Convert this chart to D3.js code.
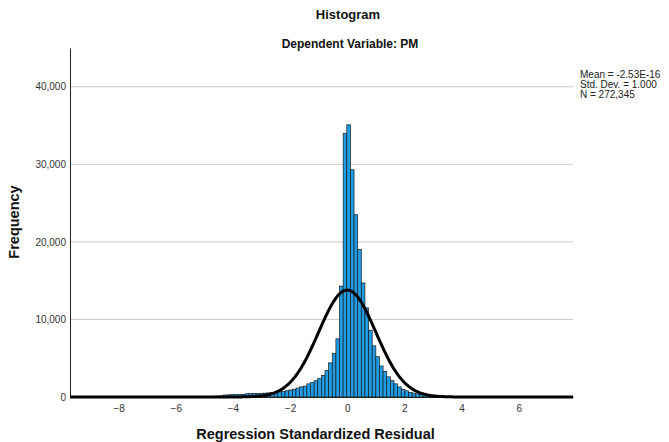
<!DOCTYPE html>
<html>
<head>
<meta charset="utf-8">
<script src="https://cdn.jsdelivr.net/npm/d3@7"></script>
<style>
  body { margin: 0; background: #fff; }
  svg { display: block; font-family: "Liberation Sans", Arial, sans-serif; }
</style>
</head>
<body>
<svg></svg>
<script>
var width = 669;
var height = 442;

// histogram bins (width binWidth, first lower edge at binStart)
var binStart = -4.968;
var binWidth = 0.127;
var counts = [
  50, 80, 100, 120, 150,
  250, 280, 300, 300, 330, 350,
  420, 450, 450, 470, 480, 500,
  530, 580, 620, 660,
  700, 800, 900, 1000, 1150, 1300, 1400, 1700, 1850, 2100, 2400, 2800, 3400, 4400, 5600, 7500, 14300, 34000,
  35100, 29300, 23500, 19000, 14700, 11500, 8600, 6600, 5200, 4000, 3300, 2600, 2100, 1700, 1300, 1000, 800, 600,
  500, 400, 320, 250, 200, 150, 120, 90, 70, 50, 40, 30, 20, 15, 10, 80
];

var yTicks = [0, 10000, 20000, 30000, 40000];
var xTicks = [-8, -6, -4, -2, 0, 2, 4, 6];
var stats = ["Mean = -2.53E-16", "Std. Dev. = 1.000", "N = 272,345"];
var meanVal = 0;
var sdVal = 1;
var nVal = 272345;

var margin = {top: 48, right: 96, bottom: 45, left: 70};
var plotW = width - margin.left - margin.right;
var plotH = height - margin.top - margin.bottom;

var bins = counts.map((c, i) => ({x0: binStart + i * binWidth, x1: binStart + (i + 1) * binWidth, count: c}));

var x = d3.scaleLinear().domain([-9.7, 7.9]).range([0, plotW]);
var y = d3.scaleLinear().domain([0, 45000]).range([plotH, 0]);

var svg = d3.select("svg")
    .attr("width", width)
    .attr("height", height);

var g = svg.append("g")
    .attr("transform", `translate(${margin.left}, ${margin.top})`);

// grid lines
g.append("g")
  .selectAll("line")
  .data(yTicks.filter(d => d > 0))
  .enter()
  .append("line")
    .attr("x1", 0)
    .attr("x2", plotW)
    .attr("y1", d => y(d))
    .attr("y2", d => y(d))
    .attr("stroke", "#c8c8c8")
    .attr("stroke-width", 1);

// y axis
var yAxis = g.append("g")
    .call(d3.axisLeft(y).tickValues(yTicks).tickSize(0).tickPadding(4).tickFormat(d3.format(",")));
yAxis.select(".domain").attr("stroke", "#222");
yAxis.selectAll("text").attr("font-size", 10).attr("fill", "#333");

// x axis
var xAxis = g.append("g")
    .attr("transform", `translate(0, ${plotH})`)
    .call(d3.axisBottom(x).tickValues(xTicks).tickSize(0).tickPadding(8));
xAxis.select(".domain").attr("stroke", "#222");
xAxis.selectAll("text").attr("font-size", 10).attr("fill", "#333");

// bars
g.append("g")
  .selectAll("rect")
  .data(bins)
  .enter()
  .append("rect")
    .attr("x", d => x(d.x0))
    .attr("width", d => x(d.x1) - x(d.x0))
    .attr("y", d => y(d.count))
    .attr("height", d => plotH - y(d.count))
    .attr("fill", "#1e9de6")
    .attr("stroke", "#1a1a1a")
    .attr("stroke-width", 0.7);

// normal curve
var curvePts = d3.range(-9.7, 7.91, 0.05).map(v => {
  var z = (v - meanVal) / sdVal;
  return [v, nVal * binWidth * Math.exp(-0.5 * z * z) / (Math.sqrt(2 * Math.PI) * sdVal)];
});

g.append("path")
    .datum(curvePts)
    .attr("fill", "none")
    .attr("stroke", "#000")
    .attr("stroke-width", 3)
    .attr("d", d3.line().x(d => x(d[0])).y(d => y(d[1])).curve(d3.curveBasis));

// titles
svg.append("text")
    .attr("x", 348)
    .attr("y", 19)
    .attr("text-anchor", "middle")
    .attr("font-size", 13)
    .attr("font-weight", "bold")
    .attr("fill", "#111")
    .text("Histogram");

svg.append("text")
    .attr("x", 350)
    .attr("y", 48)
    .attr("text-anchor", "middle")
    .attr("font-size", 12)
    .attr("font-weight", "bold")
    .attr("fill", "#111")
    .text("Dependent Variable: PM");

svg.append("text")
    .attr("x", margin.left + plotW / 2 - 6)
    .attr("y", 439)
    .attr("text-anchor", "middle")
    .attr("font-size", 14.5)
    .attr("font-weight", "bold")
    .attr("fill", "#111")
    .text("Regression Standardized Residual");

svg.append("text")
    .attr("transform", "translate(19, 222) rotate(-90)")
    .attr("text-anchor", "middle")
    .attr("font-size", 14.5)
    .attr("font-weight", "bold")
    .attr("fill", "#111")
    .text("Frequency");

// stats box text
svg.append("g")
  .selectAll("text")
  .data(stats)
  .enter()
  .append("text")
    .attr("x", 580)
    .attr("y", (d, i) => 78 + i * 10)
    .attr("font-size", 10)
    .attr("fill", "#222")
    .text(d => d);
</script>
</body>
</html>
